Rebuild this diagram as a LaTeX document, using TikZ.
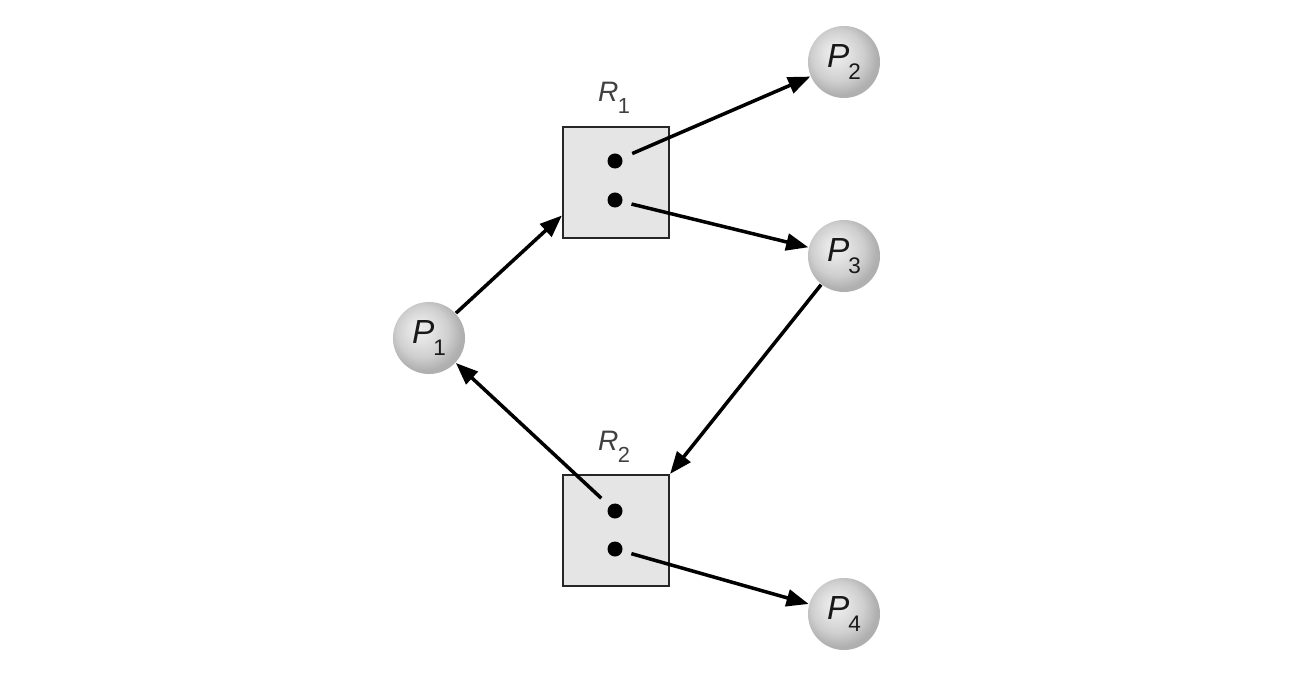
\documentclass[tikz,border=0pt]{standalone}
\usepackage{fontspec}
\setmainfont{Liberation Sans}
\usetikzlibrary{arrows.meta,calc}
\pgfdeclareradialshading{procball}{\pgfqpoint{-7bp}{7bp}}{color(0bp)=(gray!14); color(7bp)=(gray!20); color(18bp)=(gray!38); color(26bp)=(gray!62); color(50bp)=(gray!70)}
\newcommand\plab[2]{\fontsize{9.5}{10}\selectfont\textit{#1}\kern-0.3pt\raisebox{-3.6pt}{\fontsize{6.4}{7}\selectfont #2}}
\newcommand\rlab[2]{\fontsize{8}{9}\selectfont\textit{#1}\kern-0.2pt\raisebox{-3.4pt}{\fontsize{6.2}{7}\selectfont #2}}
\tikzset{
  proc/.style={circle, minimum size=0.72cm, inner sep=0pt, shading=procball, text=black!90},
  res/.style={draw=black!85, line width=0.6pt, fill=gray!20, minimum width=1.06cm, minimum height=1.11cm, inner sep=0pt},
  inst/.style={circle, fill=black, minimum size=0.15cm, inner sep=0pt},
  edge/.style={line width=1pt, -{Triangle[length=6.3pt,width=4.8pt]}},
  lbl/.style={text=black!75, inner sep=0pt}
}
\begin{document}
\begin{tikzpicture}[x=0.01cm,y=-0.01cm]
\useasboundingbox (0,0) rectangle (1294,676);
\node[res] (R1) at (616,182.5) {};
\node[res] (R2) at (616,530.5) {};
\node[inst] (d11) at (615,161) {};
\node[inst] (d12) at (615,200) {};
\node[inst] (d21) at (615,511) {};
\node[inst] (d22) at (615,549) {};
\node[lbl] (LR1) at (614,98) {\rlab{R}{1}};
\node[lbl] (LR2) at (614,447) {\rlab{R}{2}};
\node[proc] (P1) at (429,338) {\plab{P}{1}};
\node[proc] (P2) at (844,62) {\plab{P}{2}};
\node[proc] (P3) at (844,256) {\plab{P}{3}};
\node[proc] (P4) at (844,614) {\plab{P}{4}};
\coordinate (r1in) at ($(R1.west)+(0,33)$);
\draw[edge] (P1) -- (r1in);
\draw[edge, shorten <=3pt] (d11) -- (P2);
\draw[edge, shorten <=2.5pt] (d12) -- (P3);
\draw[edge] (P3) -- (R2.north east);
\draw[edge, shorten <=3pt] (d21) -- (P1);
\draw[edge, shorten <=2.5pt] (d22) -- (P4);
\end{tikzpicture}
\end{document}
